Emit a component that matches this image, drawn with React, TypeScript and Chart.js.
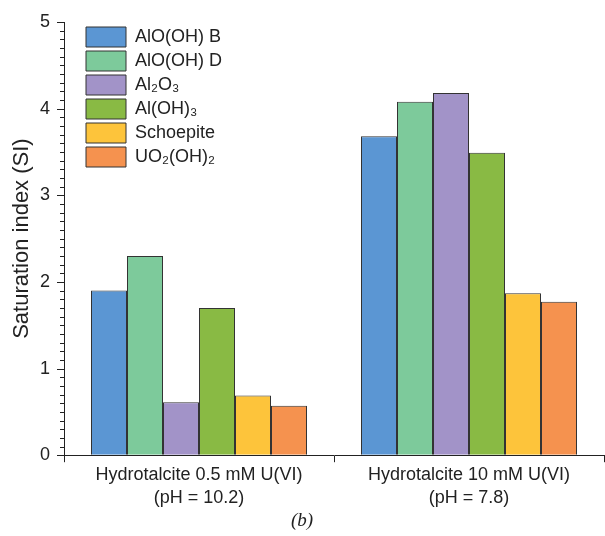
import { useEffect, useRef } from 'react';
import { Chart, registerables } from 'chart.js';

Chart.register(...registerables);

const categories = [
  ['Hydrotalcite 0.5 mM U(VI)', '(pH = 10.2)'],
  ['Hydrotalcite 10 mM U(VI)', '(pH = 7.8)'],
];
const seriesNames = ['AlO(OH) B', 'AlO(OH) D', 'Al₂O₃', 'Al(OH)₃', 'Schoepite', 'UO₂(OH)₂'];
const alOOHB = [1.9, 3.68];
const alOOHD = [2.3, 4.08];
const al2O3 = [0.61, 4.18];
const alOH3 = [1.7, 3.49];
const schoepite = [0.69, 1.87];
const uo2OH2 = [0.57, 1.77];
const seriesColors = ['#5B96D3', '#7DCA9B', '#A293C8', '#89BA44', '#FDC43B', '#F5924F'];
const yTicksMajor = [0, 1, 2, 3, 4, 5];

const FONT = 'Liberation Sans, Arial, sans-serif';
const INK = '#222222';

const minorTicksPlugin = {
  id: 'minorTicks',
  afterDraw(chart: any) {
    const y = chart.scales.y;
    const ctx = chart.ctx;
    const left = chart.chartArea.left;
    ctx.save();
    ctx.strokeStyle = INK;
    ctx.lineWidth = 1;
    y.ticks.forEach((t: any) => {
      const v = t.value;
      const major = yTicksMajor.some((m) => Math.abs(m - v) < 1e-6);
      const len = major ? 7 : 4;
      const py = Math.round(y.getPixelForValue(v)) + 0.5;
      ctx.beginPath();
      ctx.moveTo(left - len, py);
      ctx.lineTo(left, py);
      ctx.stroke();
    });
    ctx.restore();
  },
};

const legendShiftPlugin = {
  id: 'legendShift',
  afterLayout(chart: any) {
    const lg = chart.legend;
    if (lg) {
      const dx = chart.chartArea.left + 18 - lg.left;
      const dy = chart.chartArea.top + 1 - lg.top;
      lg.left += dx;
      lg.right += dx;
      lg.top += dy;
      lg.bottom += dy;
    }
  },
};

export default function App() {
  const ref = useRef<HTMLCanvasElement>(null);
  useEffect(() => {
    const values = [alOOHB, alOOHD, al2O3, alOH3, schoepite, uo2OH2];
    const chart = new Chart(ref.current!, {
      type: 'bar',
      data: {
        labels: categories,
        datasets: seriesNames.map((name, i) => ({
          label: name,
          data: values[i],
          backgroundColor: seriesColors[i],
          borderColor: '#333333',
          borderWidth: 1,
          categoryPercentage: 0.8,
          barPercentage: 1,
        })),
      },
      options: {
        responsive: false,
        animation: false,
        layout: { padding: { left: 0, right: 1, top: 0, bottom: 0 } },
        plugins: {
          legend: {
            position: 'chartArea',
            align: 'start',
            labels: {
              boxWidth: 40,
              boxHeight: 20,
              padding: 4,
              color: INK,
              font: { family: FONT, size: 18 },
            },
          },
          title: {
            display: true,
            position: 'bottom',
            text: '(b)',
            color: INK,
            font: { family: 'Liberation Serif, Times New Roman, serif', style: 'italic', size: 19, weight: 'normal' },
            padding: { top: 2, bottom: 4 },
          },
          tooltip: { enabled: false },
        },
        scales: {
          x: {
            afterFit(scale: any) {
              scale.height = 52;
            },
            grid: {
              offset: true,
              drawOnChartArea: false,
              tickLength: 7,
              tickColor: INK,
            },
            border: { color: INK, width: 1 },
            ticks: {
              color: INK,
              padding: 1,
              font: { family: FONT, size: 18, lineHeight: 1.3 },
              maxRotation: 0,
            },
          },
          y: {
            min: 0,
            max: 5,
            afterFit(scale: any) {
              scale.width = 64;
              scale.paddingTop = 22;
            },
            grid: { drawOnChartArea: false, drawTicks: false },
            border: { color: INK, width: 1 },
            ticks: {
              stepSize: 0.1,
              autoSkip: false,
              padding: 14,
              color: INK,
              font: { family: FONT, size: 18 },
              callback: (v: any) => {
                const n = Number(v);
                const m = yTicksMajor.find((t) => Math.abs(t - n) < 1e-6);
                return m === undefined ? '' : String(m);
              },
            },
            title: {
              display: true,
              text: 'Saturation index (SI)',
              color: INK,
              font: { family: FONT, size: 22 },
              padding: { top: 9, bottom: 0 },
            },
          },
        },
      },
      plugins: [minorTicksPlugin, legendShiftPlugin],
    });
    return () => chart.destroy();
  }, []);
  return (
    <div style={{ position: 'absolute', left: 0, top: 0, width: 605, height: 536, background: '#fff' }}>
      <canvas ref={ref} width={605} height={536} />
    </div>
  );
}
